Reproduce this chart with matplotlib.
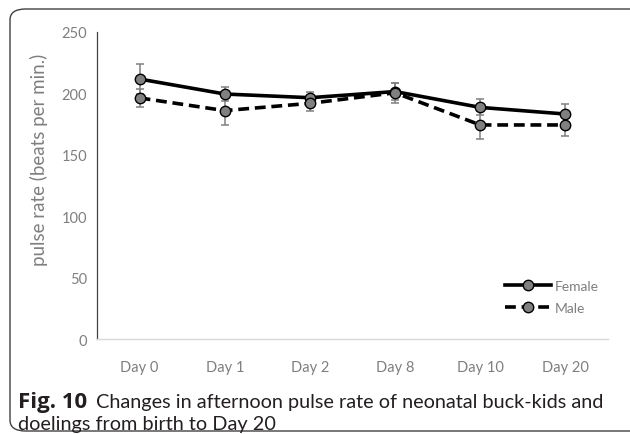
import numpy as np
import matplotlib
matplotlib.use("Agg")
import matplotlib.pyplot as plt
from matplotlib.patches import FancyBboxPatch

# data
days = ["Day 0", "Day 1", "Day 2", "Day 8", "Day 10", "Day 20"]
female = [211.7, 199.5, 196.5, 201.5, 188.6, 183.2]
female_err = [12, 6, 5, 6.7, 6.5, 8.5]
male = [196.3, 186.0, 191.9, 200.5, 174.3, 174.3]
male_err = [7, 12, 6, 8, 11.4, 8.8]
yticks = [0, 50, 100, 150, 200, 250]

tick_grey = "#7f7f7f"
plt.rcParams["font.family"] = ["Lato", "DejaVu Sans"]

fig = plt.figure(figsize=(6.3, 4.35), dpi=100)
ax = fig.add_axes([97 / 630, 1 - 340 / 435, 511 / 630, 307 / 435])

x = np.arange(len(days))
ax.errorbar(x, female, yerr=female_err, fmt="none", ecolor="#808080",
            elinewidth=1.1, capsize=3, capthick=1.1, zorder=2)
ax.errorbar(x, male, yerr=male_err, fmt="none", ecolor="#808080",
            elinewidth=1.1, capsize=3, capthick=1.1, zorder=2)
ax.plot(x, female, color="black", lw=2.6, marker="o", ms=7.5,
        mfc="#808080", mec="black", mew=1.0, label="Female", zorder=3)
ax.plot(x, male, color="black", lw=2.6, ls=(0, (3, 1.6)), marker="o", ms=7.5,
        mfc="#808080", mec="black", mew=1.0, label="Male", zorder=3)

ax.set_xlim(-0.5, len(days) - 0.5)
ax.set_ylim(0, 250)
ax.set_yticks(yticks)
ax.set_xticks(x)
ax.set_xticklabels(days)
ax.tick_params(axis="both", length=0, labelsize=10.5, labelcolor=tick_grey)
ax.tick_params(axis="x", pad=15)
ax.tick_params(axis="y", pad=7)
for s in ["top", "right"]:
    ax.spines[s].set_visible(False)
ax.spines["left"].set_color("#404040")
ax.spines["left"].set_linewidth(0.9)
ax.spines["bottom"].set_color("#d9d9d9")
ax.spines["bottom"].set_linewidth(1.0)

ax.set_ylabel("pulse rate (beats per min.)", fontsize=13.5, color=tick_grey)
ax.yaxis.set_label_coords(-49 / 511, (340 - 160) / 307)

ax.legend(loc="center left", bbox_to_anchor=(505 / 630, 1 - 298 / 435),
          bbox_transform=fig.transFigure, frameon=False, fontsize=10,
          handlelength=3.3, handletextpad=0.3, labelspacing=0.75,
          borderaxespad=0, borderpad=0, labelcolor=tick_grey)

# rounded frame round the figure
frame = FancyBboxPatch((10 / 630, 1 - 432 / 435), 640 / 630, 422 / 435,
                       boxstyle="round,pad=0,rounding_size=0.025",
                       transform=fig.transFigure, fill=False,
                       ec="#404040", lw=1.0, clip_on=False)
fig.patches.append(frame)

# caption
cap_font = ["Lato", "DejaVu Sans"]
cap_size = 14.3
t1 = fig.text(18 / 630, 1 - 403 / 435, "Fig. 10", fontsize=16, fontweight="bold",
              family=["Open Sans", "DejaVu Sans"], va="center", ha="left", color="#231f20")
fig.canvas.draw()
bb = t1.get_window_extent(renderer=fig.canvas.get_renderer())
fig.text((bb.x1 + 9) / 630, 1 - 403 / 435,
         "Changes in afternoon pulse rate of neonatal buck-kids and",
         fontsize=cap_size, family=cap_font, va="center", ha="left", color="#231f20")
fig.text(18 / 630, 1 - 425 / 435, "doelings from birth to Day 20",
         fontsize=cap_size, family=cap_font, va="center", ha="left", color="#231f20")

fig.savefig("out.png", dpi=100)
